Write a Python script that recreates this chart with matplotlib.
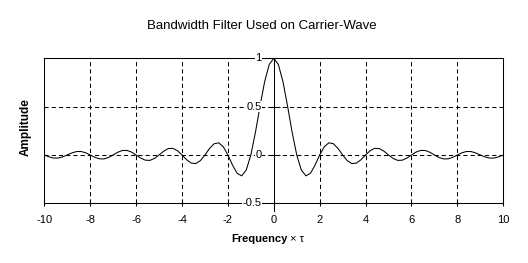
import numpy as np
import matplotlib
matplotlib.use("Agg")
import matplotlib.pyplot as plt

plt.rcParams['font.family'] = ['Liberation Sans', 'DejaVu Sans']
plt.rcParams['lines.scale_dashes'] = False

# frequency x tau, sampled every 0.2 from -10 to 10
freq = np.linspace(-10, 10, 101)
amplitude = [
    0.000, -0.019, -0.032, -0.032, -0.020, 0.000, 0.021, 0.035, 0.036, 0.023,
    0.000, -0.024, -0.040, -0.041, -0.026, 0.000, 0.028, 0.046, 0.047, 0.030,
    0.000, -0.032, -0.054, -0.056, -0.036, 0.000, 0.039, 0.066, 0.069, 0.045,
    0.000, -0.049, -0.084, -0.089, -0.059, 0.000, 0.067, 0.116, 0.126, 0.085,
    0.000, -0.104, -0.189, -0.216, -0.156, 0.000, 0.234, 0.505, 0.757, 0.936,
    1.000,
    0.936, 0.757, 0.505, 0.234, 0.000, -0.156, -0.216, -0.189, -0.104, 0.000,
    0.085, 0.126, 0.116, 0.067, 0.000, -0.059, -0.089, -0.084, -0.049, 0.000,
    0.045, 0.069, 0.066, 0.039, 0.000, -0.036, -0.056, -0.054, -0.032, 0.000,
    0.030, 0.047, 0.046, 0.028, 0.000, -0.026, -0.041, -0.040, -0.024, 0.000,
    0.023, 0.036, 0.035, 0.021, 0.000, -0.020, -0.032, -0.032, -0.019, 0.000,
]
x_ticks = [-10, -8, -6, -4, -2, 0, 2, 4, 6, 8, 10]
y_ticks = [1, 0.5, 0, -0.5]
y_tick_labels = ['1', '0.5', '0', '-0.5']

fig = plt.figure(figsize=(5.28, 2.63), dpi=100)
ax = fig.add_axes([0.0839, 0.227, 0.8693, 0.5513])

lw = 0.75
dash = (0, (3.0, 2.2))

# dashed grid
for xv in x_ticks[1:-1]:
    if xv != 0:
        ax.axvline(xv, color='black', lw=lw, linestyle=dash)
for yv in [0.5, 0]:
    ax.axhline(yv, color='black', lw=lw, linestyle=dash)

# y axis through x = 0
ax.axvline(0, ymin=-0.05, ymax=1, color='black', lw=lw, clip_on=False)
ax.plot([0] * len(y_ticks), y_ticks, linestyle='none', marker='_',
        ms=8.5, mew=lw, color='black', clip_on=False)
for yv, lbl in zip(y_ticks, y_tick_labels):
    ax.annotate(lbl, xy=(0, yv), xytext=(-12, 0), textcoords='offset pixels',
                ha='right', va='center', fontsize=8,
                bbox=dict(fc='white', ec='none', pad=0.3))

ax.plot(freq, amplitude, color='black', lw=lw)

ax.set_xlim(-10, 10)
ax.set_ylim(-0.5, 1)
ax.set_xticks(x_ticks)
ax.set_xticklabels([str(v) for v in x_ticks])
ax.set_yticks([])
ax.tick_params(axis='x', direction='inout', length=5, width=lw, pad=6, labelsize=8)
for s in ax.spines.values():
    s.set_linewidth(lw)

fig.text(261.5 / 528, 1 - 29 / 263, 'Bandwidth Filter Used on Carrier-Wave',
         ha='center', va='baseline', fontsize=9.5)
# x label: bold word, regular "x tau"
fig.text(288 / 528, 1 - 238.5 / 263, 'Frequency',
         ha='right', va='center', fontsize=8, fontweight='bold')
fig.text(290 / 528, 1 - 238.5 / 263, '\u00d7 \u03c4',
         ha='left', va='center', fontsize=8)
fig.text(26 / 528, 1 - 156 / 263, 'Amplitude', rotation=90,
         ha='center', va='bottom', fontsize=8.5, fontweight='bold')

fig.savefig('out.png', dpi=100)
